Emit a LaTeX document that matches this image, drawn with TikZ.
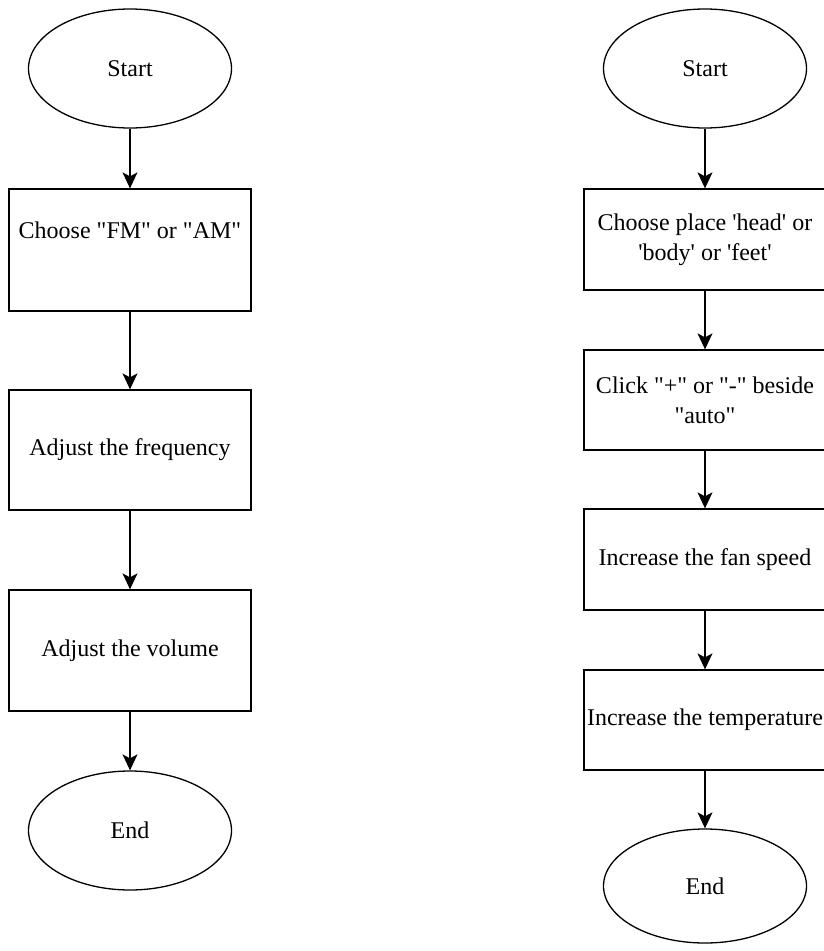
\documentclass[tikz,border=0pt]{standalone}
\usepackage{fontspec}
\newfontfamily\diafont{Liberation Serif}
\usetikzlibrary{shapes.geometric,arrows.meta}
\begin{document}
\begin{tikzpicture}[x=1pt,y=-1pt,
  term/.style={draw,ellipse,line width=1.3pt,minimum width=203pt,minimum height=119pt,inner sep=0pt,
    font=\diafont\fontsize{24}{30}\selectfont},
  procbox/.style={draw,rectangle,line width=1.3pt,minimum width=242pt,inner sep=0pt,align=center,
    font=\diafont\fontsize{24}{30}\selectfont},
  flow/.style={line width=1.3pt,-{Stealth[length=16pt,width=15pt,inset=4pt]}}]
\useasboundingbox (0,0) rectangle (823,951);
% left column
\node[term] (ls) at (130,68.5) {Start};
\node[procbox,minimum height=122pt] (l1) at (130,250) {Choose "FM" or "AM"\\ \strut};
\node[procbox,minimum height=120pt] (l2) at (130,450) {Adjust the frequency};
\node[procbox,minimum height=121pt] (l3) at (130,650.5) {Adjust the volume};
\node[term] (le) at (130,830.5) {End};
\draw[flow] (ls) -- (l1);
\draw[flow] (l1) -- (l2);
\draw[flow] (l2) -- (l3);
\draw[flow] (l3) -- (le);
% right column
\node[term] (rs) at (705,68.5) {Start};
\node[procbox,minimum height=101pt] (r1) at (705,239.5) {Choose place 'head' or\\ 'body' or 'feet'};
\node[procbox,minimum height=100pt] (r2) at (705,400) {Click "+" or "-" beside\\ "auto"};
\node[procbox,minimum height=101pt] (r3) at (705,559.5) {Increase the fan speed};
\node[procbox,minimum height=100pt] (r4) at (705,720) {Increase the temperature};
\node[term,minimum height=114pt] (re) at (705,886) {End};
\draw[flow] (rs) -- (r1);
\draw[flow] (r1) -- (r2);
\draw[flow] (r2) -- (r3);
\draw[flow] (r3) -- (r4);
\draw[flow] (r4) -- (re);
\end{tikzpicture}
\end{document}
